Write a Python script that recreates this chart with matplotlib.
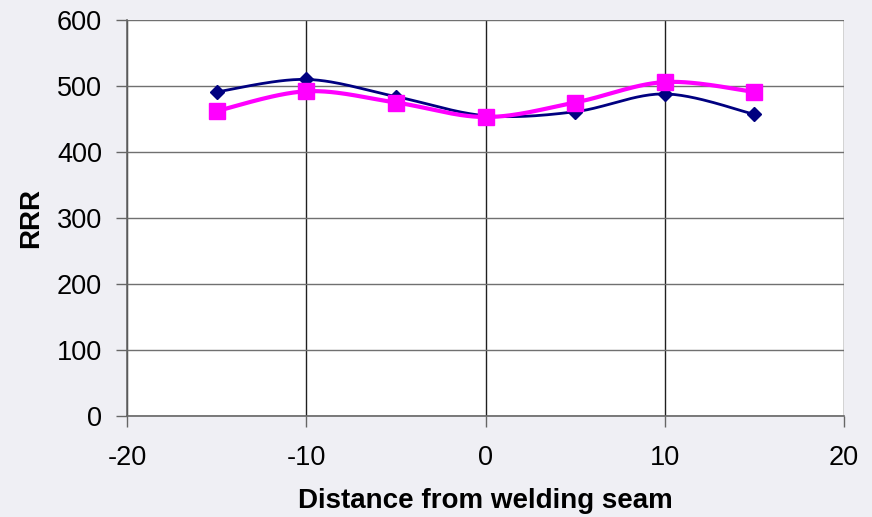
import numpy as np
import matplotlib
matplotlib.use('Agg')
import matplotlib.pyplot as plt

# --- Data: RRR measured across the weld ---
distance = [-15, -10, -5, 0, 5, 10, 15]
rrr_a = [491, 510, 484, 455, 461, 488, 457]
rrr_b = [462, 492, 475, 453, 475, 506, 491]


def smooth(x, y, n=30):
    """Catmull-Rom style curve through the points (like a smoothed line series)."""
    x = np.asarray(x, float)
    y = np.asarray(y, float)
    px = np.concatenate([[x[0]], x, [x[-1]]])
    py = np.concatenate([[y[0]], y, [y[-1]]])
    xs, ys = [], []
    t = np.linspace(0, 1, n)
    for i in range(1, len(px) - 2):
        p0, p1, p2, p3 = [np.array([px[j], py[j]]) for j in (i - 1, i, i + 1, i + 2)]
        c1 = p1 + (p2 - p0) / 6
        c2 = p2 - (p3 - p1) / 6
        pts = ((1 - t)[:, None] ** 3 * p1 + 3 * ((1 - t) ** 2 * t)[:, None] * c1
               + 3 * ((1 - t) * t ** 2)[:, None] * c2 + (t ** 3)[:, None] * p2)
        xs.extend(pts[:, 0])
        ys.extend(pts[:, 1])
    return np.array(xs), np.array(ys)


plt.rcParams['font.family'] = ['Liberation Sans', 'DejaVu Sans']
plt.rcParams['axes.unicode_minus'] = False

fig = plt.figure(figsize=(8.72, 5.17), dpi=100, facecolor='#efeff4')
ax = fig.add_axes([0.1456, 0.1954, 0.8224, 0.7659])
ax.set_facecolor('white')

ax.set_xlim(-20, 20)
ax.set_ylim(0, 600)
ax.set_xticks(range(-20, 21, 10))
ax.set_yticks(range(0, 601, 100))
ax.yaxis.grid(True, color='#707070', linewidth=1.0)
ax.xaxis.grid(True, color='#202020', linewidth=1.0)
ax.set_axisbelow(True)

for s in ('top', 'right'):
    ax.spines[s].set_visible(False)
for s in ('left', 'bottom'):
    ax.spines[s].set_color('#666666')
    ax.spines[s].set_linewidth(1.2)

ax.tick_params(direction='out', length=8, width=1, color='#666666',
               labelsize=19.5)
ax.tick_params(axis='y', pad=10)
ax.tick_params(axis='x', pad=13)

xa, ya = smooth(distance, rrr_a)
ax.plot(xa, ya, color='#000080', linewidth=2, zorder=3)
ax.plot(distance, rrr_a, linestyle='none', marker='D', markersize=7,
        color='#000080', zorder=4)

xb, yb = smooth(distance, rrr_b)
ax.plot(xb, yb, color='#ff00ff', linewidth=3, zorder=5)
ax.plot(distance, rrr_b, linestyle='none', marker='s', markersize=12,
        color='#ff00ff', zorder=6)

ax.set_xlabel('Distance from welding seam', fontsize=20, fontweight='bold', labelpad=12)
ax.set_ylabel('RRR', fontsize=20, fontweight='bold', labelpad=9)

fig.savefig('out.png', dpi=100, facecolor=fig.get_facecolor())
